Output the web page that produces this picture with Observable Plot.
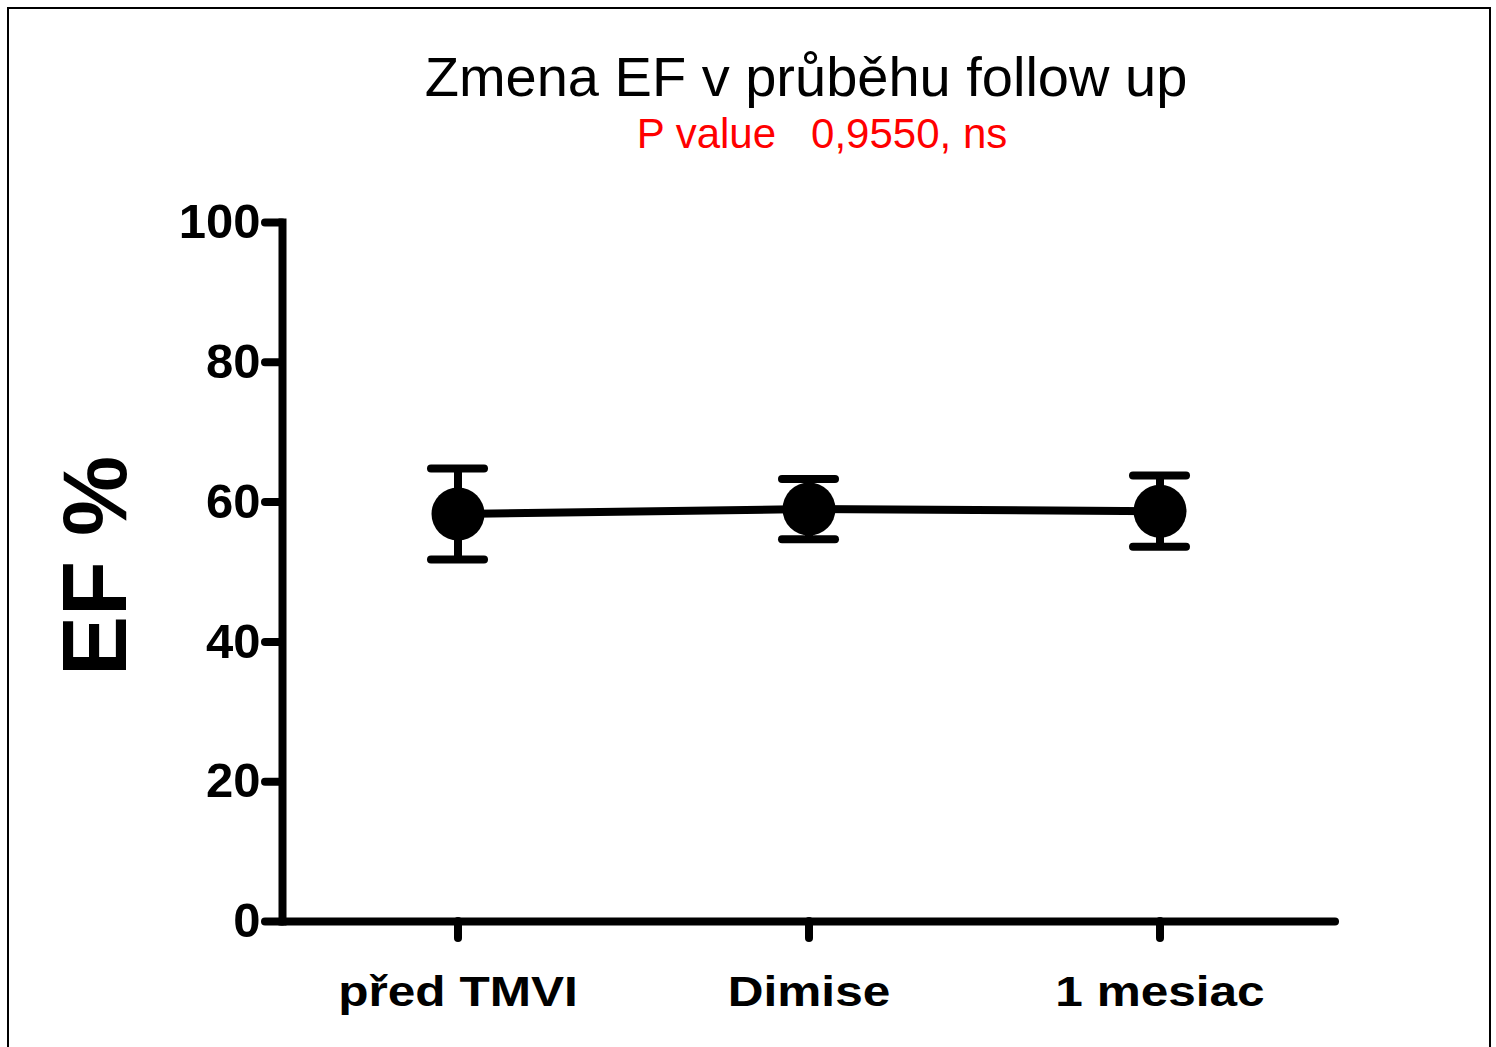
<!DOCTYPE html>
<html>
<head>
<meta charset="utf-8">
<script src="https://cdn.jsdelivr.net/npm/d3@7"></script>
<script src="https://cdn.jsdelivr.net/npm/@observablehq/plot@0.6"></script>
<style>
  body { margin: 0; background: #fff; font-family: "Liberation Sans", Arial, sans-serif; }
  #page { position: relative; width: 1496px; height: 1047px; overflow: hidden; background: #fff; }
  #frame { position: absolute; left: 7px; top: 7px; width: 1484px; height: 1100px; border: 2px solid #000; box-sizing: border-box; }
  .ttl { position: absolute; white-space: pre; line-height: 1; transform: translateX(-50%); }
  #title { left: 806px; top: 49px; font-size: 56px; color: #000; }
  #subtitle { left: 822px; top: 113px; font-size: 42px; color: #ff0000; }
  #chart { position: absolute; left: 0; top: 170px; }
</style>
</head>
<body>
<div id="page">
  <div id="frame"></div>
  <div id="title" class="ttl">Zmena EF v průběhu follow up</div>
  <div id="subtitle" class="ttl">P value   0,9550, ns</div>
  <div id="chart"></div>
</div>
<script>
// ---- data ----
const categories = ["před TMVI", "Dimise", "1 mesiac"];
const means = [58.3, 59.0, 58.7];
const sds = [6.5, 4.3, 5.1];
const yTicks = [0, 20, 40, 60, 80, 100];
const yLabel = "EF %";

const data = categories.map((c, i) => ({cat: c, mean: means[i], lo: means[i] - sds[i], hi: means[i] + sds[i]}));

const font = "Liberation Sans, Arial, sans-serif";
const chart = Plot.plot({
  width: 1496,
  height: 877,
  marginLeft: 282,
  marginRight: 161,
  marginTop: 52,
  marginBottom: 126,
  style: {fontFamily: font, background: "transparent", color: "#000"},
  x: {type: "band", domain: categories, padding: 0, label: null},
  y: {domain: [0, 100], label: null},
  marks: [
    Plot.axisY({ticks: yTicks, tickSize: 17, tickPadding: 5, strokeWidth: 8, strokeLinecap: "round", fontSize: 49, fontWeight: "bold", label: null, fill: "#000"}),
    Plot.axisX({tickSize: 17, tickPadding: 38, strokeWidth: 8, strokeLinecap: "round", fontSize: 42, fontWeight: "bold", label: null, fill: "#000"}),
    Plot.frame({anchor: "left", strokeWidth: 8, stroke: "#000"}),
    Plot.ruleY([0], {strokeWidth: 8, strokeLinecap: "round", stroke: "#000"}),
    Plot.ruleX(data, {x: "cat", y1: "lo", y2: "hi", strokeWidth: 8, stroke: "#000"}),
    Plot.tickY(data, {x: "cat", y: "hi", insetLeft: 149, insetRight: 149, strokeWidth: 8, strokeLinecap: "round", stroke: "#000"}),
    Plot.tickY(data, {x: "cat", y: "lo", insetLeft: 149, insetRight: 149, strokeWidth: 8, strokeLinecap: "round", stroke: "#000"}),
    Plot.line(data, {x: "cat", y: "mean", strokeWidth: 8, stroke: "#000"}),
    Plot.dot(data, {x: "cat", y: "mean", r: 26.5, fill: "#000", stroke: "none"}),
    Plot.text([yLabel], {text: d => d, frameAnchor: "left", textAnchor: "middle", rotate: -90, dx: -185, dy: -6, fontSize: 90, fontWeight: "bold", fontFamily: font, fill: "#000"})
  ]
});
document.getElementById("chart").appendChild(chart);

// widen the category labels horizontally, keeping each one centred on its tick
function stretch(selector, s) {
  d3.select(chart).selectAll(selector).each(function () {
    const x = this.getAttribute("x");
    const t = this.getAttribute("transform");
    if (t) this.setAttribute("transform", t + ` scale(${s},1)`);
    else if (x != null) this.setAttribute("transform", `translate(${(+x) * (1 - s)},0) scale(${s},1)`);
  });
}
stretch('g[aria-label="x-axis tick label"] text', 1.18);
</script>
</body>
</html>
